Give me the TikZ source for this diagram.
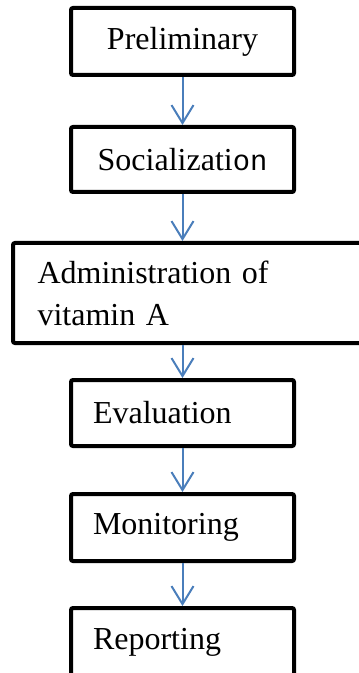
\documentclass[tikz,border=0pt]{standalone}
\usepackage{fontspec}
\setmainfont{Liberation Serif}
\newfontfamily\monofont[Scale=0.9]{Liberation Mono}
\usetikzlibrary{arrows.meta}
\definecolor{arrowblue}{HTML}{4A7EBB}
\tikzset{
  stagebox/.style={draw, line width=2pt, rounded corners=1pt, minimum width=111.5pt,
    inner sep=0pt, font=\fontsize{16}{21}\selectfont},
  leftbox/.style={stagebox, text width=89.5pt, align=left},
  stagearrow/.style={draw=arrowblue, line width=1pt, -{Straight Barb[length=9pt,width=11pt]}}
}
\begin{document}
\begin{tikzpicture}[x=1pt,y=1pt]
\useasboundingbox (0,0) rectangle (179,-336.5);
\node[stagebox, minimum height=33.5pt] (prelim) at (91.25,-20.75) {Preliminary};
\node[stagebox, minimum height=32.5pt] (social) at (91.25,-79.75) {Socializati{\monofont\addfontfeatures{FakeBold=-0.3}on}};
\node[stagebox, minimum width=174.5pt, minimum height=50pt, text width=150pt, align=left] (admin) at (93.75,-146.5) {Administration of\\vitamin A};
\node[leftbox, minimum height=33pt] (eval) at (91.25,-206.5) {Evaluation};
\node[leftbox, minimum height=33.5pt] (monit) at (91.25,-263.75) {Monitoring};
\node[leftbox, minimum height=34pt] (report) at (91.25,-321) {Reporting};
\draw[stagearrow] (prelim) -- (social);
\draw[stagearrow] (social.south) -- (social.south |- admin.north);
\draw[stagearrow] (admin.south -| eval.north) -- (eval.north);
\draw[stagearrow] (eval) -- (monit);
\draw[stagearrow] (monit) -- (report);
\end{tikzpicture}
\end{document}
